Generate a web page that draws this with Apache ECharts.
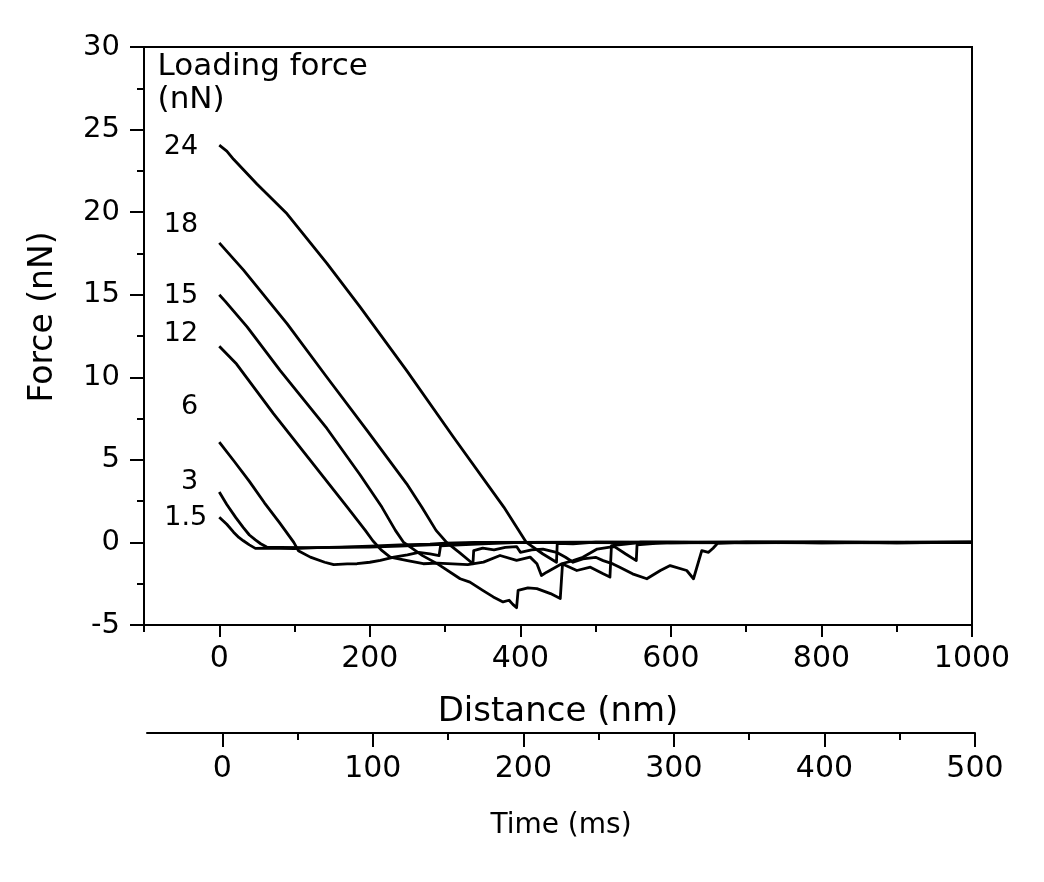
<!DOCTYPE html>
<html>
<head>
<meta charset="utf-8">
<script src="https://cdn.jsdelivr.net/npm/echarts@6/dist/echarts.min.js"></script>
<style>
html,body{margin:0;padding:0;background:#fff;}
#chart{width:1044px;height:882px;}
</style>
</head>
<body>
<div id="chart"></div>
<script>
// Force–distance retraction curves, [distance nm, force nN]
const curve24 = [[0,24.06],[10,23.7],[19,23.2],[50,21.7],[90,19.9],[143,16.9],[187,14.26],[249,10.4],[311,6.38],[378,2.14],[408,0],[430,-0.7],[448,-1.2],[449,-0.05],[470,-0.08],[500,0.02],[600,-0.02],[700,0.03],[800,-0.02],[900,0.02],[1000,0.01]];
const curve18 = [[0,18.14],[32,16.5],[90,13.25],[143,10.0],[196,6.8],[249,3.55],[269,2.14],[288,0.73],[302,0],[320,-0.65],[337,-1.29],[338,-0.5],[350,-0.35],[365,-0.45],[380,-0.3],[395,-0.25],[400,-0.6],[415,-0.45],[430,-0.4],[448,-0.6],[460,-0.9],[470,-1.2],[483,-1.0],[500,-0.9],[510,-1.1],[523,-1.3],[532,-1.5],[549,-1.9],[568,-2.2],[586,-1.7],[599,-1.4],[621,-1.7],[630,-2.2],[641,-0.5],[650,-0.6],[656,-0.35],[662,-0.05],[700,0.02],[800,0.03],[900,-0.02],[1000,0.02]];
const curve15 = [[0,15.0],[8,14.6],[37,13.05],[81,10.4],[143,6.9],[187,4.1],[216,2.14],[234,0.73],[245,0],[270,-0.8],[290,-1.3],[320,-2.2],[333,-2.4],[350,-2.9],[364,-3.3],[377,-3.6],[385,-3.5],[390,-3.75],[395,-3.95],[397,-2.9],[410,-2.75],[422,-2.8],[440,-3.1],[453,-3.4],[456,-1.3],[475,-1.7],[493,-1.5],[510,-1.9],[519,-2.1],[521,-0.2],[540,-0.1],[560,0.01],[700,-0.02],[850,0.02],[1000,-0.01]];
const curve12 = [[0,11.88],[23,10.8],[72,7.8],[121,4.97],[170,2.14],[194,0.73],[204,0.1],[215,-0.45],[227,-0.89],[250,-1.1],[271,-1.29],[290,-1.25],[310,-1.3],[330,-1.35],[351,-1.19],[373,-0.79],[395,-1.09],[413,-0.89],[422,-1.29],[428,-2.0],[435,-1.8],[455,-1.29],[470,-1.1],[483,-0.9],[502,-0.4],[519,-0.28],[525,-0.25],[540,-0.7],[554,-1.1],[555,-0.15],[580,-0.05],[600,0],[750,0.02],[900,-0.02],[1000,0]];
const curve6 = [[0,6.08],[20,4.9],[40,3.7],[60,2.4],[80,1.2],[99,0],[105,-0.5],[121,-0.89],[140,-1.2],[152,-1.35],[170,-1.3],[183,-1.29],[200,-1.2],[214,-1.09],[232,-0.89],[250,-0.75],[265,-0.6],[280,-0.7],[292,-0.8],[294,-0.2],[320,-0.15],[350,-0.08],[400,0],[600,0.02],[800,-0.01],[1000,0.02]];
const curve3 = [[0,3.05],[10,2.3],[22,1.5],[32,0.9],[40,0.45],[48,0.15],[55,-0.08],[63,-0.28],[80,-0.3],[120,-0.32],[160,-0.3],[200,-0.28],[240,-0.22],[280,-0.15],[320,-0.08],[360,0],[600,-0.02],[800,0.02],[1000,-0.01]];
const curve1p5 = [[0,1.53],[10,1.1],[19,0.62],[26,0.3],[32,0.1],[40,-0.15],[48,-0.36],[63,-0.34],[80,-0.36],[100,-0.38],[130,-0.32],[160,-0.28],[200,-0.22],[240,-0.15],[280,-0.1],[300,-0.05],[340,0],[600,0.02],[800,-0.02],[1000,0.01]];

const loadNames = ['24','18','15','12','6','3','1.5'];
// label anchor points [distance, force] (right edge of text)
const loadLabelPos = [[-28,23.94],[-28,19.24],[-28,14.9],[-28,12.6],[-28,8.18],[-28,3.64],[-16,1.45]];
const headerText = ['Loading force','(nN)'];
const headerPos = [[-82,28.8],[-82,26.8]];

const distTicks = [0,200,400,600,800,1000];
const distMinor = [-100,100,300,500,700,900];
const timeTicks = [0,100,200,300,400,500];
const timeMinor = [50,150,250,350,450];

const FONT = 'DejaVu Sans';
const curves = [curve24, curve18, curve15, curve12, curve6, curve3, curve1p5];

const lineSeries = curves.map(function (c) {
  return {
    type: 'line', xAxisIndex: 0, yAxisIndex: 0, data: c,
    showSymbol: false, symbol: 'none', smooth: false,
    lineStyle: {color: '#000', width: 2.8, join: 'round'}, silent: true, z: 3
  };
});

const labelSeries = {
  type: 'scatter', xAxisIndex: 0, yAxisIndex: 0, symbolSize: 0, silent: true,
  itemStyle: {opacity: 1, color: '#000'},
  data: loadLabelPos.map(function (p, i) { return {value: p, name: loadNames[i]}; }),
  label: {show: true, position: 'left', distance: 0, formatter: '{b}', color: '#000', opacity: 1, fontFamily: FONT, fontSize: 27}
};
const headerSeries = {
  type: 'scatter', xAxisIndex: 0, yAxisIndex: 0, symbolSize: 0, silent: true,
  itemStyle: {opacity: 1, color: '#000'},
  data: headerPos.map(function (p, i) { return {value: p, name: headerText[i]}; }),
  label: {show: true, position: 'right', distance: 0, formatter: '{b}', color: '#000', opacity: 1, fontFamily: FONT, fontSize: 31}
};

const axisLineStyle = {color: '#000', width: 2};
const plainFmt = function (v) { return String(v); };

const option = {
  animation: false,
  backgroundColor: '#fff',
  grid: [
    {left: 144, right: 72, top: 47, height: 578, show: true, borderColor: '#000', borderWidth: 2, backgroundColor: 'transparent'},
    {left: 147, right: 69, top: 732, height: 1, show: false}
  ],
  xAxis: [
    {
      gridIndex: 0, type: 'value', min: -100, max: 1000, position: 'bottom',
      axisLine: {show: true, onZero: false, lineStyle: axisLineStyle},
      axisTick: {show: true, inside: false, length: 12, lineStyle: axisLineStyle, customValues: distTicks},
      axisLabel: {show: true, customValues: distTicks, formatter: plainFmt, color: '#000', fontFamily: FONT, fontSize: 30, margin: 19},
      splitLine: {show: false},
      name: 'Distance (nm)', nameLocation: 'middle', nameGap: 70,
      nameTextStyle: {color: '#000', fontFamily: FONT, fontSize: 34}
    },
    {
      gridIndex: 0, type: 'value', min: -100, max: 1000, position: 'bottom',
      axisLine: {show: false, onZero: false},
      axisTick: {show: true, inside: false, length: 7, lineStyle: axisLineStyle, customValues: distMinor},
      axisLabel: {show: false},
      splitLine: {show: false}
    },
    {
      gridIndex: 1, type: 'value', min: -50, max: 500, position: 'bottom',
      axisLine: {show: true, onZero: false, lineStyle: axisLineStyle},
      axisTick: {show: true, inside: false, length: 14, lineStyle: axisLineStyle, customValues: timeTicks},
      axisLabel: {show: true, customValues: timeTicks, formatter: plainFmt, color: '#000', fontFamily: FONT, fontSize: 30, margin: 21},
      splitLine: {show: false},
      name: 'Time (ms)', nameLocation: 'middle', nameGap: 79,
      nameTextStyle: {color: '#000', fontFamily: FONT, fontSize: 28}
    },
    {
      gridIndex: 1, type: 'value', min: -50, max: 500, position: 'bottom',
      axisLine: {show: false, onZero: false},
      axisTick: {show: true, inside: false, length: 7, lineStyle: axisLineStyle, customValues: timeMinor},
      axisLabel: {show: false},
      splitLine: {show: false}
    }
  ],
  yAxis: [
    {
      gridIndex: 0, type: 'value', min: -5, max: 30, interval: 5,
      axisLine: {show: true, onZero: false, lineStyle: axisLineStyle},
      axisTick: {show: true, inside: false, length: 14, lineStyle: axisLineStyle},
      minorTick: {show: true, splitNumber: 2, length: 7, lineStyle: axisLineStyle},
      axisLabel: {color: '#000', fontFamily: FONT, fontSize: 29, margin: 24},
      splitLine: {show: false}, minorSplitLine: {show: false},
      name: 'Force (nN)', nameLocation: 'middle', nameGap: 84, nameRotate: 90,
      nameTextStyle: {color: '#000', fontFamily: FONT, fontSize: 33, padding: [0, 0, 0, 38]}
    },
    {gridIndex: 1, type: 'value', show: false, min: 0, max: 1}
  ],
  series: lineSeries.concat([labelSeries, headerSeries])
};

const chart = echarts.init(document.getElementById('chart'), null, {renderer: 'canvas'});
chart.setOption(option);
</script>
</body>
</html>
